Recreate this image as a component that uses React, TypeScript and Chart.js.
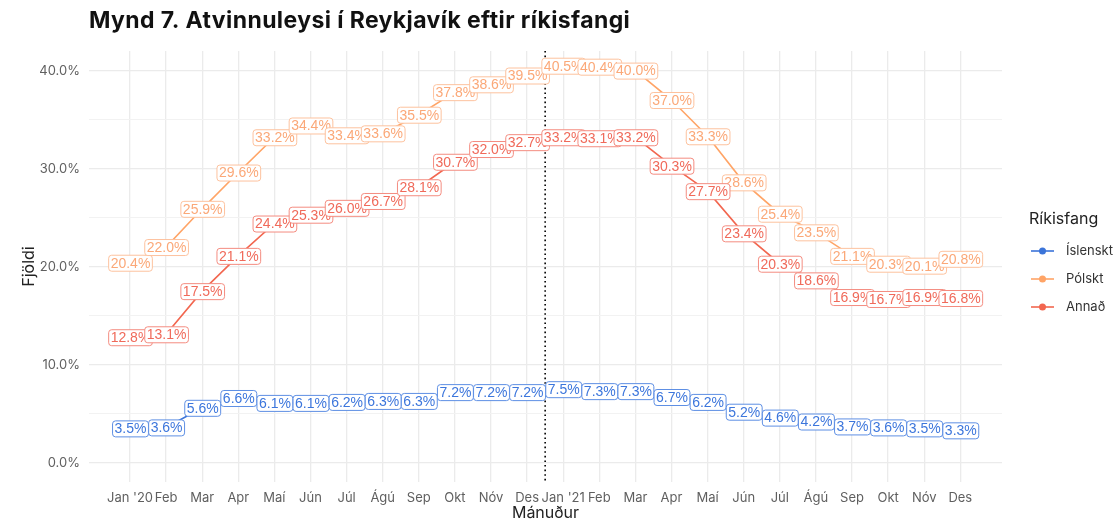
import React, { useEffect, useRef } from 'react';
import { Chart, registerables } from 'chart.js';

Chart.register(...registerables);

const months = ["Jan '20", 'Feb', 'Mar', 'Apr', 'Maí', 'Jún', 'Júl', 'Ágú', 'Sep', 'Okt', 'Nóv', 'Des',
  "Jan '21", 'Feb', 'Mar', 'Apr', 'Maí', 'Jún', 'Júl', 'Ágú', 'Sep', 'Okt', 'Nóv', 'Des'];

const islenskt = [3.5, 3.6, 5.6, 6.6, 6.1, 6.1, 6.2, 6.3, 6.3, 7.2, 7.2, 7.2, 7.5, 7.3, 7.3, 6.7, 6.2, 5.2, 4.6, 4.2, 3.7, 3.6, 3.5, 3.3];
const polskt = [20.4, 22.0, 25.9, 29.6, 33.2, 34.4, 33.4, 33.6, 35.5, 37.8, 38.6, 39.5, 40.5, 40.4, 40.0, 37.0, 33.3, 28.6, 25.4, 23.5, 21.1, 20.3, 20.1, 20.8];
const annad = [12.8, 13.1, 17.5, 21.1, 24.4, 25.3, 26.0, 26.7, 28.1, 30.7, 32.0, 32.7, 33.2, 33.1, 33.2, 30.3, 27.7, 23.4, 20.3, 18.6, 16.9, 16.7, 16.9, 16.8];

const seriesNames = ['Íslenskt', 'Pólskt', 'Annað'];
const seriesValues = [islenskt, polskt, annad];
const yTicks = [0, 5, 10, 15, 20, 25, 30, 35, 40];
const cutoffPosition = 11.5;

const titleText = 'Mynd 7. Atvinnuleysi í Reykjavík eftir ríkisfangi';
const xTitle = 'Mánuður';
const yTitle = 'Fjöldi';
const legendTitle = 'Ríkisfang';

const lineColors = ['#3b74d9', '#ffa466', '#f2664f'];
const labelTextColors = ['#3c76dc', '#fba878', '#f06a5a'];
const labelBorderColors = ['#5e8fe4', '#fdc29e', '#f48c80'];

const FONT = 'Inter, "Noto Sans", sans-serif';
const LABEL_FONT = '"Liberation Sans", Arial, sans-serif';

function roundRect(ctx: CanvasRenderingContext2D, x: number, y: number, w: number, h: number, r: number) {
  ctx.beginPath();
  ctx.moveTo(x + r, y);
  ctx.lineTo(x + w - r, y);
  ctx.arcTo(x + w, y, x + w, y + r, r);
  ctx.lineTo(x + w, y + h - r);
  ctx.arcTo(x + w, y + h, x + w - r, y + h, r);
  ctx.lineTo(x + r, y + h);
  ctx.arcTo(x, y + h, x, y + h - r, r);
  ctx.lineTo(x, y + r);
  ctx.arcTo(x, y, x + r, y, r);
  ctx.closePath();
}

const extrasPlugin = {
  id: 'extras',
  beforeDatasetsDraw(chart: any) {
    const ctx = chart.ctx as CanvasRenderingContext2D;
    const area = chart.chartArea;
    const xs = chart.scales.x;
    const px = xs.getPixelForValue(cutoffPosition);
    ctx.save();
    ctx.strokeStyle = '#000';
    ctx.lineWidth = 1.6;
    ctx.setLineDash([1.6, 3]);
    ctx.beginPath();
    ctx.moveTo(px, area.top);
    ctx.lineTo(px, area.bottom);
    ctx.stroke();
    ctx.restore();
  },
  afterDatasetsDraw(chart: any) {
    const ctx = chart.ctx as CanvasRenderingContext2D;
    ctx.save();
    ctx.font = `14px ${LABEL_FONT}`;
    ctx.textAlign = 'center';
    ctx.textBaseline = 'middle';
    chart.data.datasets.forEach((ds: any, d: number) => {
      const meta = chart.getDatasetMeta(d);
      meta.data.forEach((pt: any, i: number) => {
        const v = seriesValues[d][i];
        const text = v.toFixed(1) + '%';
        const tw = ctx.measureText(text).width;
        const w = tw + 4;
        const h = 16;
        const x = pt.x - w / 2;
        const y = pt.y - h / 2;
        roundRect(ctx, x + 0.5, y + 0.5, w, h, 3);
        ctx.fillStyle = '#ffffff';
        ctx.fill();
        ctx.strokeStyle = labelBorderColors[d];
        ctx.lineWidth = 1;
        ctx.stroke();
        ctx.fillStyle = labelTextColors[d];
        ctx.fillText(text, pt.x + 0.5, pt.y + 1);
      });
    });
    ctx.restore();
  },
  afterDraw(chart: any) {
    const ctx = chart.ctx as CanvasRenderingContext2D;
    const area = chart.chartArea;
    ctx.save();
    // Title
    ctx.fillStyle = '#111';
    ctx.font = `bold 23px ${FONT}`;
    (ctx as any).letterSpacing = '0.4px';
    ctx.textAlign = 'left';
    ctx.textBaseline = 'alphabetic';
    ctx.fillText(titleText, 89, 28);
    (ctx as any).letterSpacing = '0px';
    // Axis titles
    ctx.fillStyle = '#222';
    ctx.font = `16px ${FONT}`;
    ctx.textAlign = 'center';
    ctx.textBaseline = 'middle';
    ctx.fillText(xTitle, (area.left + area.right) / 2, 513);
    ctx.save();
    ctx.translate(29, (area.top + area.bottom) / 2);
    ctx.rotate(-Math.PI / 2);
    ctx.fillText(yTitle, 0, 0);
    ctx.restore();
    // Legend
    ctx.textAlign = 'left';
    ctx.font = `16px ${FONT}`;
    ctx.fillStyle = '#222';
    ctx.fillText(legendTitle, 1029, 219);
    ctx.font = `13px ${FONT}`;
    seriesNames.forEach((name, i) => {
      const y = 251 + i * 28;
      ctx.strokeStyle = lineColors[i];
      ctx.lineWidth = 1.6;
      ctx.beginPath();
      ctx.moveTo(1031, y);
      ctx.lineTo(1054, y);
      ctx.stroke();
      ctx.fillStyle = lineColors[i];
      ctx.beginPath();
      ctx.arc(1042.5, y, 3.5, 0, Math.PI * 2);
      ctx.fill();
      ctx.fillStyle = '#333';
      ctx.fillText(name, 1066, y);
    });
    ctx.restore();
  },
};

export default function App() {
  const ref = useRef<HTMLCanvasElement | null>(null);
  useEffect(() => {
    if (!ref.current) return;
    const chart = new Chart(ref.current, {
      type: 'line',
      data: {
        datasets: seriesNames.map((name, d) => ({
          label: name,
          data: seriesValues[d].map((v, i) => ({ x: i, y: v })),
          borderColor: lineColors[d],
          backgroundColor: lineColors[d],
          borderWidth: 1.6,
          pointRadius: 0,
          tension: 0,
          fill: false,
        })),
      },
      options: {
        responsive: false,
        animation: false,
        layout: { padding: { left: 0, right: 113, top: 51, bottom: 0 } },
        plugins: {
          legend: { display: false },
          title: { display: false },
          tooltip: { enabled: false },
        },
        scales: {
          x: {
            type: 'linear',
            min: -1.136,
            max: 24.155,
            afterBuildTicks: (scale: any) => {
              scale.ticks = months.map((_, i) => ({ value: i }));
            },
            afterFit: (scale: any) => {
              scale.height = 38;
            },
            ticks: {
              autoSkip: false,
              maxRotation: 0,
              padding: 8,
              color: '#5f5f5f',
              font: { family: FONT, size: 13 },
              callback: (v: any) => months[Math.round(Number(v))] ?? '',
            },
            grid: { color: '#ebebeb', lineWidth: 1.3, drawTicks: false },
            border: { display: false },
          },
          y: {
            type: 'linear',
            min: -1.97,
            max: 42.0,
            afterBuildTicks: (scale: any) => {
              scale.ticks = yTicks.map((v) => ({ value: v }));
            },
            afterFit: (scale: any) => {
              scale.width = 89;
            },
            ticks: {
              padding: 9,
              color: '#5f5f5f',
              font: { family: FONT, size: 13 },
              callback: (v: any) => (Number(v) % 10 === 0 ? Number(v).toFixed(1) + '%' : ''),
            },
            grid: {
              color: (c: any) => (c.tick && c.tick.value % 10 === 0 ? '#ebebeb' : '#f2f2f2'),
              lineWidth: (c: any) => (c.tick && c.tick.value % 10 === 0 ? 1.3 : 1),
              drawTicks: false,
            },
            border: { display: false },
          },
        },
      },
      plugins: [extrasPlugin],
    });
    return () => chart.destroy();
  }, []);
  return (
    <div style={{ position: 'absolute', left: 0, top: 0, width: 1115, height: 520, background: '#fff' }}>
      <canvas ref={ref} width={1115} height={520} style={{ width: 1115, height: 520, display: 'block' }} />
    </div>
  );
}
